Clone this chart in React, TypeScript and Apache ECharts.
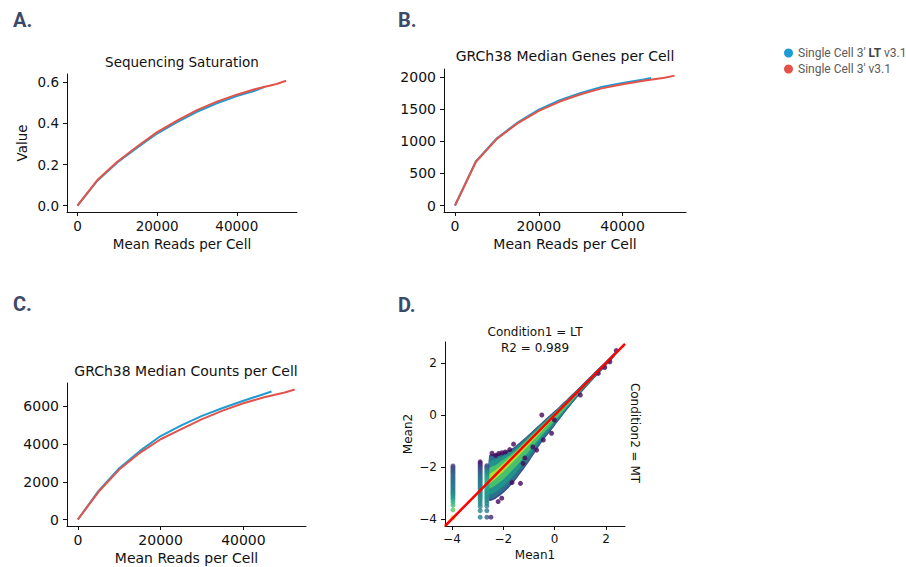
import React, { useEffect, useRef } from 'react';
import * as echarts from 'echarts';

// ---------- Data: panels A-C ----------
const nameLT = "Single Cell 3' LT v3.1";
const nameStd = "Single Cell 3' v3.1";

const lineTicks = [0, 20000, 40000];
const readsBlue = [0, 5000, 10000, 15000, 20000, 25000, 30000, 35000, 40000, 45000, 46800];
const readsRed = [0, 5000, 10000, 15000, 20000, 25000, 30000, 35000, 40000, 45000, 50000, 52400];

const satBlue = [0, 0.122, 0.21, 0.282, 0.351, 0.407, 0.457, 0.498, 0.533, 0.562, 0.577];
const satRed = [0, 0.125, 0.214, 0.288, 0.358, 0.414, 0.465, 0.506, 0.54, 0.569, 0.592, 0.608];
const satTicks = [0, 0.2, 0.4, 0.6];

const genesBlue = [0, 690, 1045, 1292, 1490, 1636, 1750, 1840, 1905, 1958, 1980];
const genesRed = [0, 680, 1035, 1280, 1470, 1615, 1728, 1820, 1885, 1940, 1985, 2018];
const genesTicks = [0, 500, 1000, 1500, 2000];

const countsBlue = [0, 1520, 2720, 3640, 4430, 5000, 5500, 5920, 6300, 6660, 6790];
const countsRed = [0, 1470, 2650, 3540, 4260, 4800, 5330, 5780, 6170, 6490, 6740, 6900];
const countsTicks = [0, 2000, 4000, 6000];

// ---------- Data: panel D ----------
const meanTicks = [-4, -2, 0, 2];
const bandX = [-2.55, -2.3, -2.0, -1.6, -1.0, -0.5, 0.0, 0.5, 1.0, 1.5, 2.0, 2.35];
const bandUpper = [
  [-1.55, -1.5, -1.42, -1.25, -0.74, -0.29, 0.16, 0.63, 1.11, 1.6, 2.08, 2.42],
  [-1.62, -1.56, -1.47, -1.29, -0.77, -0.31, 0.14, 0.61, 1.1, 1.59, 2.07, 2.41],
  [-1.8, -1.7, -1.58, -1.36, -0.82, -0.35, 0.11, 0.59, 1.08, 1.57, 2.06, 2.4],
  [-2.05, -1.92, -1.72, -1.44, -0.87, -0.39, 0.08, 0.56, 1.06, 1.55, 2.05, 2.38],
  [-2.3, -2.12, -1.86, -1.5, -0.92, -0.44, 0.05, 0.54, 1.04, 1.54, 2.04, 2.37],
];
const bandLower = [
  [-3.3, -3.22, -3.0, -2.6, -1.8, -1.05, -0.42, 0.22, 0.82, 1.37, 1.89, 2.28],
  [-3.22, -3.14, -2.92, -2.52, -1.73, -1.0, -0.39, 0.24, 0.84, 1.38, 1.9, 2.29],
  [-3.05, -2.96, -2.74, -2.34, -1.58, -0.9, -0.32, 0.29, 0.87, 1.41, 1.92, 2.3],
  [-2.82, -2.7, -2.48, -2.08, -1.4, -0.78, -0.23, 0.34, 0.91, 1.44, 1.94, 2.32],
  [-2.62, -2.45, -2.18, -1.78, -1.15, -0.62, -0.08, 0.45, 0.97, 1.48, 1.98, 2.34],
];

const colAX = -3.96;
const colAY = [-1.96, -2.02, -2.08, -2.14, -2.2, -2.26, -2.32, -2.38, -2.44, -2.5, -2.56, -2.62, -2.68, -2.74, -2.8, -2.86, -2.92, -2.98, -3.04, -3.1, -3.17, -3.25, -3.35, -3.47, -3.65, -3.95];
const colAD = [0.2, 0.22, 0.24, 0.26, 0.28, 0.3, 0.32, 0.34, 0.35, 0.36, 0.37, 0.38, 0.39, 0.4, 0.41, 0.42, 0.44, 0.46, 0.48, 0.5, 0.53, 0.57, 0.62, 0.68, 0.74, 0.95];

const colBX = -2.9;
const colBY = [-1.8, -1.86, -1.92, -1.98, -2.04, -2.1, -2.16, -2.22, -2.28, -2.34, -2.4, -2.46, -2.52, -2.58, -2.64, -2.7, -2.76, -2.82, -2.88, -2.94, -3.0, -3.06, -3.12, -3.18, -3.25, -3.33, -3.42, -3.52, -3.68, -3.93];
const colBD = [0.04, 0.08, 0.12, 0.16, 0.2, 0.23, 0.26, 0.29, 0.31, 0.33, 0.35, 0.37, 0.39, 0.4, 0.41, 0.42, 0.43, 0.44, 0.45, 0.46, 0.47, 0.48, 0.49, 0.5, 0.5, 0.5, 0.49, 0.48, 0.45, 0.42];

const colCX = -2.64;
const colCY = [-1.95, -2.01, -2.07, -2.13, -2.19, -2.25, -2.31, -2.37, -2.43, -2.49, -2.55, -2.61, -2.67, -2.73, -2.79, -2.85, -2.91, -2.97, -3.03, -3.09, -3.15, -3.22, -3.3, -3.39, -3.5, -3.68, -3.93];
const colCD = [0.2, 0.26, 0.32, 0.38, 0.43, 0.48, 0.52, 0.55, 0.58, 0.6, 0.62, 0.63, 0.63, 0.62, 0.61, 0.6, 0.58, 0.56, 0.55, 0.54, 0.52, 0.5, 0.48, 0.46, 0.44, 0.4, 0.3];

const outX = [-2.44, -2.3, -2.18, -2.05, -1.92, -1.75, -2.2, -2.06, -1.66, -1.33, -1.23, -1.16, -0.85, -0.7, -0.44, -0.12, -0.01, -0.5, 1.0, 2.4, -1.6, 1.7, 1.95, 2.15, -2.48];
const outY = [-1.47, -1.55, -1.48, -1.45, -1.42, -1.33, -3.33, -3.2, -2.6, -2.63, -1.86, -1.65, -1.23, -1.35, -0.96, -0.7, -0.19, 0.0, 0.77, 2.48, -1.12, 1.6, 1.83, 2.05, -3.93];
const outD = [0.02, 0.02, 0.02, 0.02, 0.02, 0.02, 0.02, 0.02, 0.02, 0.02, 0.02, 0.02, 0.02, 0.02, 0.02, 0.02, 0.02, 0.02, 0.02, 0.02, 0.02, 0.02, 0.02, 0.02, 0.1];

const fitX = [-4.27, 2.74];
const fitY = [-4.27, 2.74];

// ---------- Styles ----------
const BLUE = '#1f9bd4';
const RED = '#e4534a';
const INK = '#111';
const LETTER = '#3c4a6a';
const FONT = 'DejaVu Sans';
const bandColors = ['#3e4a89', '#2c718e', '#22938b', '#48c16e', '#b2dd2c'];
const viridis = ['#440154', '#482878', '#3e4989', '#31688e', '#26828e', '#1f9e89', '#35b779', '#6ece58', '#b5de2b', '#fde725'];

const pairs = (xs: number[], ys: number[]) => xs.map((x, i) => [x, ys[i]]);
const col = (x: number, ys: number[], ds: number[]) => ys.map((y, i) => [x, y, ds[i]]);
const fmtNum = (v: number) => String(v);
const fmtMinus = (v: number) => (v < 0 ? '\u2212' + Math.abs(v) : String(v));

function xAxisCfg(grid: number, min: number, max: number, ticks: number[], size: number, name: string, nameGap: number, fmt: (v: number) => string) {
  return {
    type: 'value', gridIndex: grid, min, max,
    name, nameLocation: 'middle', nameGap,
    nameTextStyle: { color: INK, fontFamily: FONT, fontSize: size },
    axisLine: { show: true, onZero: false, lineStyle: { color: INK, width: 1 } },
    axisTick: { show: true, length: 4, customValues: ticks, lineStyle: { color: INK, width: 1 } },
    axisLabel: { show: true, customValues: ticks, formatter: fmt, color: INK, fontFamily: FONT, fontSize: size, margin: 7 },
    splitLine: { show: false },
  };
}
function yAxisCfg(grid: number, min: number, max: number, ticks: number[], size: number, name: string, nameGap: number, fmt: (v: number) => string) {
  return {
    type: 'value', gridIndex: grid, min, max,
    name, nameLocation: 'middle', nameGap,
    nameTextStyle: { color: INK, fontFamily: FONT, fontSize: size },
    axisLine: { show: true, onZero: false, lineStyle: { color: INK, width: 1 } },
    axisTick: { show: true, length: 4, customValues: ticks, lineStyle: { color: INK, width: 1 } },
    axisLabel: { show: true, customValues: ticks, formatter: fmt, color: INK, fontFamily: FONT, fontSize: size, margin: 8 },
    splitLine: { show: false },
  };
}
function lineSeries(name: string, color: string, xi: number, data: number[][]) {
  return {
    type: 'line', name, xAxisIndex: xi, yAxisIndex: xi, data,
    showSymbol: false, symbol: 'none', smooth: false,
    lineStyle: { color, width: 2 }, itemStyle: { color }, z: 3,
  };
}
function txt(text: string, x: number, y: number, font: string, fill: string, align = 'center', rotation = 0) {
  return {
    type: 'text', x, y, rotation, silent: true,
    style: { text, font, fill, align, verticalAlign: 'middle', textAlign: align, textVerticalAlign: 'middle' },
  };
}

const XMIN = -2625, XMAX = 55125;

const option: any = {
  animation: false,
  backgroundColor: '#ffffff',
  grid: [
    { left: 67, top: 74, width: 230, height: 138, outerBoundsMode: 'none' },
    { left: 444, top: 69, width: 242, height: 143, outerBoundsMode: 'none' },
    { left: 67, top: 383, width: 239, height: 143, outerBoundsMode: 'none' },
    { left: 445, top: 342, width: 180, height: 184, outerBoundsMode: 'none' },
  ],
  xAxis: [
    xAxisCfg(0, XMIN, XMAX, lineTicks, 13.5, 'Mean Reads per Cell', 25, fmtNum),
    xAxisCfg(1, XMIN, XMAX, lineTicks, 14, 'Mean Reads per Cell', 25, fmtNum),
    xAxisCfg(2, XMIN, XMAX, lineTicks, 14, 'Mean Reads per Cell', 25, fmtNum),
    xAxisCfg(3, -4.27, 2.74, meanTicks, 12, 'Mean1', 23, fmtMinus),
  ],
  yAxis: [
    yAxisCfg(0, -0.0305, 0.6405, satTicks, 13.5, 'Value', 38, (v: number) => v.toFixed(1)),
    yAxisCfg(1, -101, 2121, genesTicks, 14, '', 30, fmtNum),
    yAxisCfg(2, -345, 7245, countsTicks, 14, '', 30, fmtNum),
    yAxisCfg(3, -4.27, 2.81, meanTicks, 12, 'Mean2', 31, fmtMinus),
  ],
  legend: {
    show: true, orient: 'vertical', left: 779, top: 42, itemGap: 4,
    icon: 'circle', itemWidth: 9, itemHeight: 9, selectedMode: false,
    data: [nameLT, nameStd],
    formatter: (n: string) => (n === nameLT ? "{n|Single Cell 3' }{b|LT}{n| v3.1}" : '{n|' + n + '}'),
    textStyle: {
      color: '#5a5a5a', fontFamily: 'Roboto', fontSize: 12,
      rich: {
        n: { color: '#5a5a5a', fontFamily: 'Roboto', fontSize: 12 },
        b: { color: '#444', fontFamily: 'Roboto', fontSize: 12, fontWeight: 'bold' },
      },
    },
  },
  visualMap: {
    show: false, type: 'continuous', min: 0, max: 1, dimension: 2, seriesIndex: 7,
    inRange: { color: viridis },
  },
  series: [
    lineSeries(nameLT, BLUE, 0, pairs(readsBlue, satBlue)),
    lineSeries(nameStd, RED, 0, pairs(readsRed, satRed)),
    lineSeries(nameLT, BLUE, 1, pairs(readsBlue, genesBlue)),
    lineSeries(nameStd, RED, 1, pairs(readsRed, genesRed)),
    lineSeries(nameLT, BLUE, 2, pairs(readsBlue, countsBlue)),
    lineSeries(nameStd, RED, 2, pairs(readsRed, countsRed)),
    {
      type: 'custom', name: 'density band', xAxisIndex: 3, yAxisIndex: 3, silent: true, z: 2,
      data: bandUpper.map((u) => [bandX[0], u[0]]),
      renderItem: (params: any, api: any) => {
        const lvl = params.dataIndex;
        const up = bandUpper[lvl];
        const lo = bandLower[lvl];
        const pts: number[][] = [];
        for (let i = 0; i < bandX.length; i++) pts.push(api.coord([bandX[i], up[i]]));
        for (let i = bandX.length - 1; i >= 0; i--) pts.push(api.coord([bandX[i], lo[i]]));
        return { type: 'polygon', shape: { points: pts, smooth: 0.2 }, style: { fill: bandColors[lvl] } };
      },
    },
    {
      type: 'scatter', name: 'genes', xAxisIndex: 3, yAxisIndex: 3, symbolSize: 5, silent: true, z: 3,
      data: [
        ...col(colAX, colAY, colAD),
        ...col(colBX, colBY, colBD),
        ...col(colCX, colCY, colCD),
        ...outX.map((x, i) => [x, outY[i], outD[i]]),
      ],
    },
    {
      type: 'line', name: 'fit', xAxisIndex: 3, yAxisIndex: 3, data: pairs(fitX, fitY),
      showSymbol: false, symbol: 'none', lineStyle: { color: '#ff0000', width: 2.5 }, z: 5, silent: true,
    },
  ],
  graphic: [
    txt('A.', 13, 20, 'bold 20px Roboto', LETTER, 'left'),
    txt('B.', 398, 20, 'bold 20px Roboto', LETTER, 'left'),
    txt('C.', 13, 304, 'bold 20px Roboto', LETTER, 'left'),
    txt('D.', 398, 305, 'bold 20px Roboto', LETTER, 'left'),
    txt('Sequencing Saturation', 182, 62, '13.5px "DejaVu Sans"', INK),
    txt('GRCh38 Median Genes per Cell', 565, 56, '14px "DejaVu Sans"', INK),
    txt('GRCh38 Median Counts per Cell', 186, 371, '14px "DejaVu Sans"', INK),
    txt('Condition1 = LT', 535, 332, '12px "DejaVu Sans"', INK),
    txt('R2 = 0.989', 535, 348, '12px "DejaVu Sans"', INK),
    txt('Condition2 = MT', 635, 433, '12px "DejaVu Sans"', INK, 'center', -Math.PI / 2),
  ],
};

export default function App() {
  const ref = useRef<HTMLDivElement>(null);
  useEffect(() => {
    if (!ref.current) return;
    const chart = echarts.init(ref.current, null, { renderer: 'svg' });
    chart.setOption(option);
    return () => chart.dispose();
  }, []);
  return (
    <div
      ref={ref}
      style={{ position: 'absolute', left: 0, top: 0, width: 906, height: 567, background: '#fff' }}
    />
  );
}
